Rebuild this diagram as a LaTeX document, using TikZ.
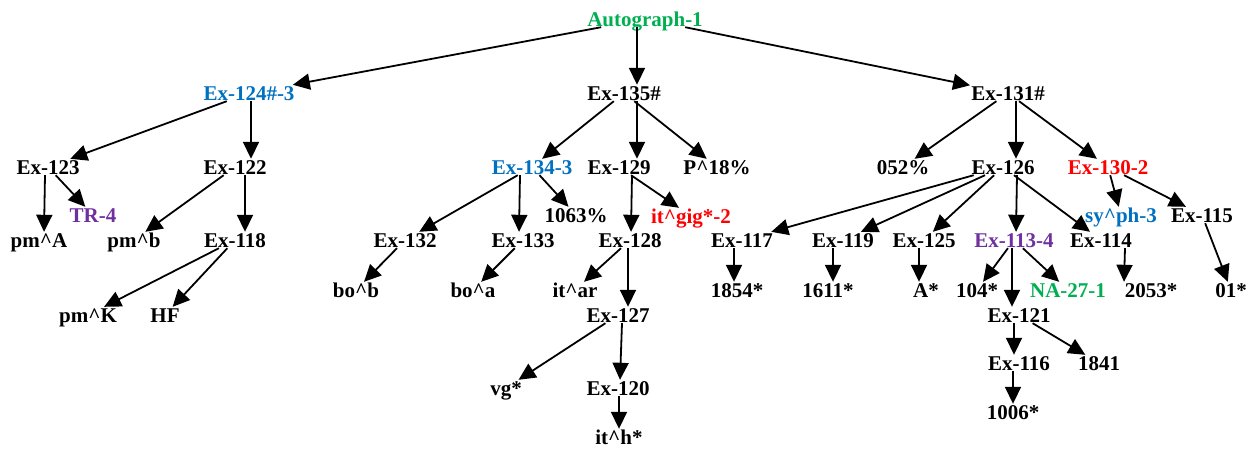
\documentclass[tikz,border=0pt]{standalone}
\usepackage{fontspec}
\setmainfont{Liberation Serif}
\usetikzlibrary{arrows.meta}
\definecolor{AutoGreen}{HTML}{00B050}
\definecolor{AutoBlue}{HTML}{0070C0}
\definecolor{AutoPurple}{HTML}{7030A0}
\definecolor{AutoRed}{HTML}{FF0000}
\tikzset{
    lbl/.style={font=\fontsize{21}{23}\selectfont\bfseries, inner sep=1pt,
                text height=14pt, text depth=0pt},
    edge/.style={line width=1.8pt, -{Triangle[length=17pt,width=16pt]}}
}

\begin{document}
\begin{tikzpicture}[x=1pt, y=1pt]
    \useasboundingbox (0,0) rectangle (1251,-448);
    % top levels
    \node[lbl, text=AutoGreen] (auto) at (645,-19) {Autograph-1};
    \node[lbl, text=AutoBlue] (ex124) at (249,-93) {Ex-124\#-3};
    \node[lbl] (ex135) at (624,-93) {Ex-135\#};
    \node[lbl] (ex131) at (1008,-93) {Ex-131\#};
    % left branch
    \node[lbl] (ex123) at (48,-167) {Ex-123};
    \node[lbl] (ex122) at (235,-167) {Ex-122};
    \node[lbl, text=AutoPurple] (tr) at (93,-215) {TR-4};
    \node[lbl] (pmA) at (39,-240) {pm\textasciicircum A};
    \node[lbl] (pmb) at (134,-240) {pm\textasciicircum b};
    \node[lbl] (ex118) at (235,-240) {Ex-118};
    \node[lbl] (pmK) at (88,-315) {pm\textasciicircum K};
    \node[lbl] (hf) at (165,-315) {HF};
    % middle branch
    \node[lbl, text=AutoBlue] (ex134) at (532,-167) {Ex-134-3};
    \node[lbl] (ex129) at (619,-167) {Ex-129};
    \node[lbl] (p18) at (717,-167) {P\textasciicircum 18\%};
    \node[lbl] (n1063) at (576,-215) {1063\%};
    \node[lbl, text=AutoRed] (itgig) at (691,-216) {it\textasciicircum gig*-2};
    \node[lbl] (ex132) at (405,-240) {Ex-132};
    \node[lbl] (ex133) at (523,-240) {Ex-133};
    \node[lbl] (ex128) at (630,-240) {Ex-128};
    \node[lbl] (bob) at (356,-290) {bo\textasciicircum b};
    \node[lbl] (boa) at (473,-290) {bo\textasciicircum a};
    \node[lbl] (itar) at (575,-290) {it\textasciicircum ar};
    \node[lbl] (ex127) at (618,-315) {Ex-127};
    \node[lbl] (vg) at (506,-388) {vg*};
    \node[lbl] (ex120) at (618,-388) {Ex-120};
    \node[lbl] (ith) at (619,-437) {it\textasciicircum h*};
    % right branch
    \node[lbl] (n052) at (903,-167) {052\%};
    \node[lbl] (ex126) at (1003,-167) {Ex-126};
    \node[lbl, text=AutoRed] (ex130) at (1108,-167) {Ex-130-2};
    \node[lbl, text=AutoBlue] (syph) at (1121,-215) {sy\textasciicircum ph-3};
    \node[lbl] (ex115) at (1202,-215) {Ex-115};
    \node[lbl] (ex117) at (742,-240) {Ex-117};
    \node[lbl] (ex119) at (843,-240) {Ex-119};
    \node[lbl] (ex125) at (924,-240) {Ex-125};
    \node[lbl, text=AutoPurple] (ex113) at (1014,-240) {Ex-113-4};
    \node[lbl] (ex114) at (1101,-240) {Ex-114};
    \node[lbl] (n1854) at (737,-290) {1854*};
    \node[lbl] (n1611) at (828,-290) {1611*};
    \node[lbl] (astar) at (926,-290) {A*};
    \node[lbl] (n104) at (977,-290) {104*};
    \node[lbl, text=AutoGreen] (na27) at (1068,-290) {NA-27-1};
    \node[lbl] (n2053) at (1151,-290) {2053*};
    \node[lbl] (n01) at (1231,-290) {01*};
    \node[lbl] (ex121) at (1019,-315) {Ex-121};
    \node[lbl] (ex116) at (1019,-363) {Ex-116};
    \node[lbl] (n1841) at (1099,-363) {1841};
    \node[lbl] (n1006) at (1013,-412) {1006*};
    % slanted connectors
    \foreach \a/\b in {auto/ex124, auto/ex131,
                       ex124/ex123, ex123/tr, ex122/pmb, ex118/pmK, ex118/hf,
                       ex135/ex134, ex135/p18, ex134/ex132, ex134/n1063,
                       ex132/bob, ex133/boa, ex129/itgig, ex128/itar, ex127/vg,
                       ex131/n052, ex131/ex130,
                       ex126/ex117, ex126/ex119, ex126/ex125, ex126/ex114,
                       ex113/n104, ex113/na27, ex130/syph, ex130/ex115,
                       ex115/n01, ex121/n1841}
        \draw[edge] (\a) -- (\b);
    % straight-down connectors
    \foreach \a/\b/\s/\t in {auto/ex135/-8/13, ex124/ex122/2/16, ex122/ex118/10/10,
                             ex123/pmA/-3/5, ex135/ex129/13/18, ex129/ex128/13/1,
                             ex128/ex127/-2/10, ex127/ex120/4/2, ex120/ith/1/0,
                             ex134/ex133/-12/-4, ex131/ex126/8/13, ex126/ex113/14/2,
                             ex113/ex121/-2/-7, ex121/ex116/-5/-5, ex116/n1006/-6/0,
                             ex117/n1854/-8/-3, ex119/n1611/-10/5, ex125/astar/-5/-7,
                             ex114/n2053/24/-27}
        \draw[edge] ([xshift=\s pt]\a.south) -- ([xshift=\t pt]\b.north);
\end{tikzpicture}
\end{document}
